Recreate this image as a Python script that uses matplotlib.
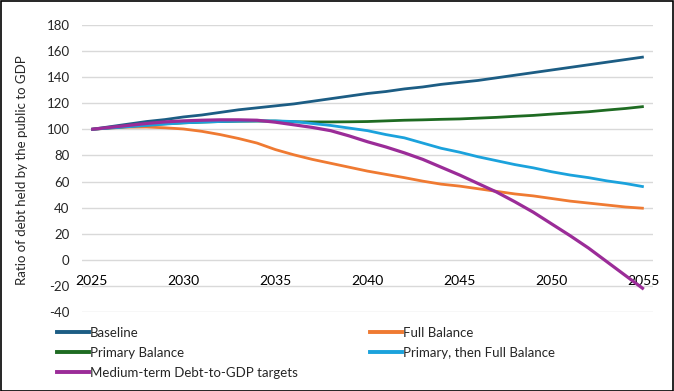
import matplotlib
matplotlib.use("Agg")
import matplotlib.pyplot as plt
from matplotlib.patches import Rectangle
from matplotlib.lines import Line2D

years = list(range(2025, 2056))

baseline = [100, 102, 104, 106, 107.5, 109.5, 111, 113, 115, 116.5, 118,
            119.5, 121.5, 123.5, 125.5, 127.5, 129, 131, 132.5, 134.5, 136,
            137.5, 139.5, 141.5, 143.5, 145.5, 147.5, 149.5, 151.5, 153.5, 155.5]
full_balance = [100, 101, 101.7, 101.8, 101.2, 100.3, 98.5, 96, 93, 89.5, 84.5,
                80.5, 77, 74, 71, 68, 65.5, 63, 60.3, 58, 56.5,
                54.5, 52.5, 50.5, 49, 47, 45, 43.5, 42, 40.5, 39.5]
primary_balance = [100, 101.2, 102.3, 103.4, 104.3, 105, 105.6, 106, 106.3, 106.4, 106.3,
                   105.8, 105.7, 105.7, 105.8, 106, 106.5, 107, 107.3, 107.7, 108,
                   108.6, 109.2, 110, 110.7, 111.7, 112.6, 113.5, 114.8, 116, 117.5]
primary_then_full = [100, 101, 102, 103, 104, 105, 105.5, 106, 106.3, 106.5, 106.5,
                     106, 104.5, 103, 101, 99, 96, 93.5, 89.5, 85.5, 82.5,
                     79, 76, 73, 70.5, 67.5, 65, 63, 60.5, 58.5, 56]
medium_term = [100, 101.5, 103, 104.5, 105.7, 106.5, 107, 107.3, 107.3, 107, 105.5,
               103.5, 101.5, 99, 95, 90.5, 86.5, 82, 77, 71, 65,
               58.5, 52, 44.5, 36.5, 27.5, 18.5, 9, -1.5, -12, -22.5]

series_names = ["Baseline", "Full Balance", "Primary Balance",
                "Primary, then Full Balance", "Medium-term Debt-to-GDP targets"]
colors = ["#1c5d84", "#ef7a32", "#1e6b22", "#1ba2dc", "#9b2c98"]
widths = [2.0, 2.0, 2.0, 2.0, 2.3]
data = [baseline, full_balance, primary_balance, primary_then_full, medium_term]

x_ticks = [2025, 2030, 2035, 2040, 2045, 2050, 2055]
y_ticks = list(range(-40, 181, 20))

plt.rcParams['font.family'] = ['Lato', 'DejaVu Sans']

fig = plt.figure(figsize=(6.74, 3.91), dpi=100)
ax = fig.add_axes([82/674, 1-312/391, (653-82)/674, (312-25)/391])

for vals, c, w in zip(data, colors, widths):
    ax.plot(years, vals, color=c, lw=w, solid_capstyle='butt', zorder=3)

ax.set_xlim(2024.5, 2055.5)
ax.set_ylim(-40, 180)
ax.set_yticks(y_ticks)
ax.set_yticklabels([str(v) for v in y_ticks], fontsize=9.5, color="#262626")
ax.grid(axis='y', color="#d9d9d9", lw=1, zorder=0)
ax.set_axisbelow(True)
for s in ax.spines.values():
    s.set_visible(False)
ax.tick_params(axis='y', length=0, pad=9)
ax.set_xticks(x_ticks)
ax.set_xticklabels([str(v) for v in x_ticks], fontsize=9.5, color="#262626")
ax.spines['bottom'].set_position(('data', 0))
ax.tick_params(axis='x', length=0, pad=11)

fig.text(22/674, 1-170/391, "Ratio of debt held by the public to GDP", rotation=90,
         ha='center', va='center', fontsize=9.5, color="#262626")

handles = [Line2D([], [], color=c, lw=2.8) for c in colors]
leg1 = fig.legend([handles[0], handles[2], handles[4]],
                  [series_names[0], series_names[2], series_names[4]],
                  loc='upper left', bbox_to_anchor=(57/674, 1-327/391),
                  frameon=False, fontsize=9.5, handlelength=2.4, handletextpad=0.1,
                  labelspacing=0.6, borderpad=0, borderaxespad=0)
leg2 = fig.legend([handles[1], handles[3]],
                  [series_names[1], series_names[3]],
                  loc='upper left', bbox_to_anchor=(370/674, 1-327/391),
                  frameon=False, fontsize=9.5, handlelength=2.4, handletextpad=0.1,
                  labelspacing=0.6, borderpad=0, borderaxespad=0)
for leg in (leg1, leg2):
    for t in leg.get_texts():
        t.set_color("#262626")

fig.patches.append(Rectangle((0.5/674, 0.5/391), 1-1.5/674, 1-1.5/391,
                             transform=fig.transFigure, fill=False,
                             edgecolor='black', lw=1.2))

fig.savefig("out.png", dpi=100)
